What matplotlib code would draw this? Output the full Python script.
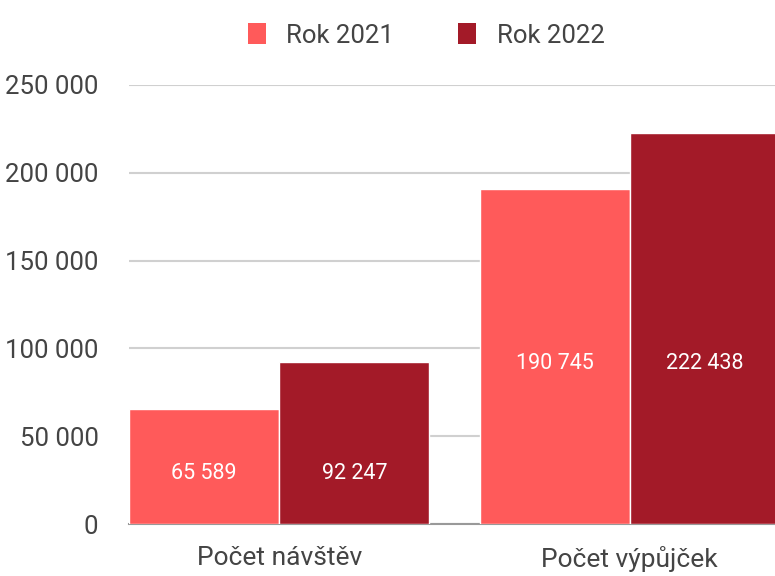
import matplotlib
matplotlib.use("Agg")
import matplotlib.pyplot as plt
from matplotlib.patches import Patch
import numpy as np

categories = ["Počet návštěv", "Počet výpůjček"]
series_names = ["Rok 2021", "Rok 2022"]
values_2021 = [65589, 190745]
values_2022 = [92247, 222438]
y_ticks = [0, 50000, 100000, 150000, 200000, 250000]

COL_2021 = "#FF5A5A"
COL_2022 = "#A31A28"
TEXT = "#444444"


def fmt(v):
    return f"{v:,}".replace(",", " ")


plt.rcParams["font.family"] = ["Roboto", "DejaVu Sans"]

fig = plt.figure(figsize=(7.75, 5.76), dpi=100)
ax = fig.add_axes([129 / 775, 1 - 524 / 576, 1 - 129 / 775, (524 - 85) / 576])

x = np.arange(len(categories))
w = 150 / 350
b1 = ax.bar(x - w / 2, values_2021, width=w, color=COL_2021, edgecolor="white",
            linewidth=1, zorder=2)
b2 = ax.bar(x + w / 2, values_2022, width=w, color=COL_2022, edgecolor="white",
            linewidth=1, zorder=2)

# labels in a group share one height: middle of the lower bar
for bars, vals in ((b1, values_2021), (b2, values_2022)):
    for i, (rect, v) in enumerate(zip(bars, vals)):
        y = min(values_2021[i], values_2022[i]) / 2 - 4000
        ax.text(rect.get_x() + rect.get_width() / 2, y, fmt(v),
                ha="center", va="center", color="white", fontsize=15.5)

ax.set_xlim(-w, 1 + 145 / 350)
ax.set_ylim(0, 250000)
ax.set_yticks(y_ticks)
ax.set_yticklabels([fmt(t) for t in y_ticks], fontsize=18.5, color=TEXT)
ax.set_xticks(x)
ax.set_xticklabels(categories, fontsize=19, color=TEXT)
ax.tick_params(length=0)
ax.tick_params(axis="y", pad=22)
ax.tick_params(axis="x", pad=16)
ax.yaxis.grid(True, color="#d0d0d0", linewidth=1.5, zorder=0)
ax.set_axisbelow(True)
for s in ("top", "right", "left"):
    ax.spines[s].set_visible(False)
ax.spines["bottom"].set_color("#999999")
ax.spines["bottom"].set_linewidth(1.5)
ax.spines["bottom"].set_zorder(1)

handles = [Patch(facecolor=COL_2021, label=series_names[0]),
           Patch(facecolor=COL_2022, label=series_names[1])]
fig.legend(handles=handles, loc="upper center", bbox_to_anchor=(0.55, 1.0),
           ncol=2, frameon=False, fontsize=18.5, labelcolor=TEXT,
           handlelength=0.7, handleheight=0.9, handletextpad=0.8,
           columnspacing=2.5)

fig.savefig("out.png", dpi=100)
